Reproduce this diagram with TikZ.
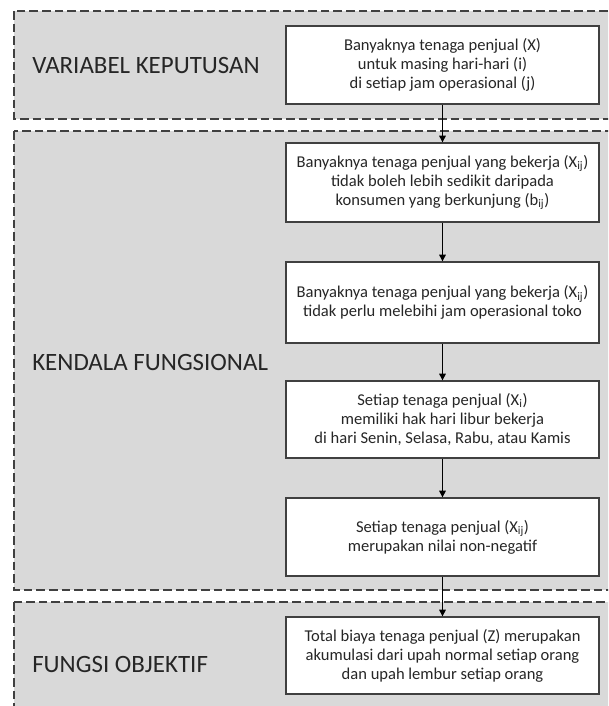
\documentclass[tikz,border=0pt]{standalone}
\usepackage{fontspec}
\setmainfont{Carlito}
\usetikzlibrary{arrows.meta}
\definecolor{panelgray}{HTML}{D9D9D9}
\definecolor{edgegray}{HTML}{404040}
\definecolor{textdark}{HTML}{262626}
\begin{document}
\begin{tikzpicture}[x=0.75pt,y=-0.75pt,
  panel/.style={draw=edgegray, fill=panelgray, dash pattern=on 6.5pt off 3pt, line width=0.8pt},
  stepbox/.style={draw=edgegray, fill=white, line width=1pt, minimum width=234.75pt, inner sep=0pt, align=center, text=textdark, font=\fontsize{12.4}{14.3}\selectfont},
  title/.style={anchor=west, inner sep=0pt, text=textdark, font=\fontsize{18.7}{21}\selectfont},
  arr/.style={-{Triangle[length=5pt,width=5pt]}, draw=black, line width=0.8pt}]
\useasboundingbox (0,0) rectangle (608,706);
\clip (0,0) rectangle (608,706);
\fill[white] (0,0) rectangle (608,706);
% panels
\path[panel] (14,11) rectangle (640,119);
\path[panel] (14,131) rectangle (640,590);
\path[panel] (14,602) rectangle (640,740);
% titles
\node[title] (t1) at (32,66) {VARIABEL KEPUTUSAN};
\node[title] (t2) at (32,362) {KENDALA FUNGSIONAL};
\node[title] (t3) at (32,664) {FUNGSI OBJEKTIF};
% boxes
\node[stepbox, minimum height=58.5pt] (b1) at (442.5,65) {Banyaknya tenaga penjual (X)\\untuk masing hari-hari (i)\\di setiap jam operasional (j)};
\node[stepbox, minimum height=59.25pt] (b2) at (442.5,182.5) {Banyaknya tenaga penjual yang bekerja (X\textsubscript{ij})\\tidak boleh lebih sedikit daripada\\konsumen yang berkunjung (b\textsubscript{ij})};
\node[stepbox, minimum height=60.75pt] (b3) at (442.5,302.5) {Banyaknya tenaga penjual yang bekerja (X\textsubscript{ij})\\tidak perlu melebihi jam operasional toko};
\node[stepbox, minimum height=57.75pt] (b4) at (442.5,419.5) {Setiap tenaga penjual (X\textsubscript{i})\\memiliki hak hari libur bekerja\\di hari Senin, Selasa, Rabu, atau Kamis};
\node[stepbox, minimum height=58.5pt] (b5) at (442.5,537) {Setiap tenaga penjual (X\textsubscript{ij})\\merupakan nilai non-negatif};
\node[stepbox, minimum height=57.75pt] (b6) at (442.5,655.5) {Total biaya tenaga penjual (Z) merupakan\\akumulasi dari upah normal setiap orang\\dan upah lembur setiap orang};
% arrows
\draw[arr] (b1.south) -- (b2.north);
\draw[arr] (b2.south) -- (b3.north);
\draw[arr] (b3.south) -- (b4.north);
\draw[arr] (b4.south) -- (b5.north);
\draw[arr] (b5.south) -- (b6.north);
\end{tikzpicture}
\end{document}
